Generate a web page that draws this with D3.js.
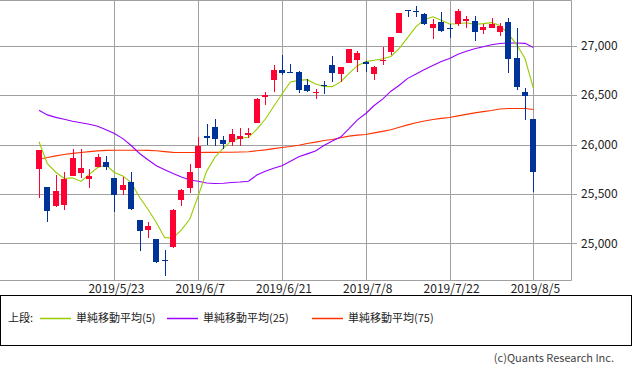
<!DOCTYPE html>
<meta charset="utf-8">
<style>
    body {margin: 0; background: #fff; font-family: "Noto Sans CJK JP", "Noto Sans", sans-serif;}
    svg {display: block;}
</style>
<svg width="633" height="373"></svg>
<script src="https://d3js.org/d3.v7.min.js"></script>
<script>
  /**
   * ----------------------------------------------------------------------------------------------
   * data
   * ----------------------------------------------------------------------------------------------
   */
  const dates = [
    "2019/5/10", "2019/5/13", "2019/5/14", "2019/5/15", "2019/5/16", "2019/5/17", "2019/5/20", "2019/5/21", "2019/5/22", "2019/5/23",
    "2019/5/24", "2019/5/28", "2019/5/29", "2019/5/30", "2019/5/31", "2019/6/3", "2019/6/4", "2019/6/5", "2019/6/6", "2019/6/7",
    "2019/6/10", "2019/6/11", "2019/6/12", "2019/6/13", "2019/6/14", "2019/6/17", "2019/6/18", "2019/6/19", "2019/6/20", "2019/6/21",
    "2019/6/24", "2019/6/25", "2019/6/26", "2019/6/27", "2019/6/28", "2019/7/1", "2019/7/2", "2019/7/3", "2019/7/5", "2019/7/8",
    "2019/7/9", "2019/7/10", "2019/7/11", "2019/7/12", "2019/7/15", "2019/7/16", "2019/7/17", "2019/7/18", "2019/7/19", "2019/7/22",
    "2019/7/23", "2019/7/24", "2019/7/25", "2019/7/26", "2019/7/29", "2019/7/30", "2019/7/31", "2019/8/1", "2019/8/2", "2019/8/5"
  ];
  const opens = [
    25751, 25568, 25376, 25386, 25683, 25710, 25653, 25774, 25822, 25659,
    25538, 25619, 25234, 25132, 25044, 24828, 24953, 25440, 25562, 25764,
    26085, 26173, 26044, 26028, 26061, 26095, 26220, 26484, 26653, 26754,
    26730, 26730, 26602, 26517, 26605, 26804, 26716, 26828, 26855, 26831,
    26713, 26845, 26933, 27132, 27362, 27351, 27318, 27186, 27243, 27176,
    27220, 27250, 27250, 27159, 27183, 27142, 27237, 26872, 26527, 26257
  ];
  const highs = [
    25945, 25570, 25690, 25724, 25953, 25953, 25747, 25906, 25882, 25660,
    25673, 25720, 25240, 25217, 25045, 24930, 25345, 25545, 25801, 26078,
    26206, 26254, 26085, 26152, 26163, 26163, 26467, 26534, 26805, 26906,
    26811, 26747, 26659, 26560, 26645, 26895, 26790, 26966, 26946, 26845,
    26797, 26990, 27090, 27332, 27362, 27402, 27335, 27270, 27338, 27220,
    27372, 27301, 27304, 27220, 27277, 27226, 27277, 27176, 26568, 26260
  ];
  const lows = [
    25460, 25217, 25370, 25335, 25680, 25656, 25551, 25770, 25740, 25318,
    25487, 25335, 24930, 25055, 24800, 24669, 24950, 25369, 25511, 25760,
    25990, 25984, 25950, 25984, 25977, 26061, 26218, 26399, 26534, 26705,
    26725, 26524, 26530, 26460, 26517, 26635, 26635, 26825, 26737, 26737,
    26652, 26811, 26905, 27130, 27287, 27287, 27210, 27064, 27139, 27081,
    27199, 27183, 27051, 27115, 27176, 27098, 26720, 26544, 26240, 25520
  ];
  const closes = [
    25942, 25325, 25532, 25648, 25862, 25764, 25680, 25877, 25776, 25490,
    25586, 25347, 25127, 25170, 24815, 24820, 25332, 25540, 25720, 25984,
    26062, 26049, 26005, 26107, 26090, 26112, 26465, 26504, 26753, 26720,
    26727, 26548, 26537, 26527, 26600, 26718, 26787, 26966, 26922, 26806,
    26784, 26860, 27088, 27332, 27359, 27336, 27220, 27223, 27154, 27172,
    27350, 27270, 27141, 27192, 27222, 27199, 26864, 26583, 26485, 25718
  ];
  const ma5 = [
    26028, 25806, 25719, 25655, 25662, 25626, 25697, 25766, 25792, 25717,
    25682, 25615, 25465, 25344, 25209, 25056, 25053, 25135, 25245, 25479,
    25728, 25871, 25964, 26041, 26063, 26073, 26156, 26256, 26385, 26511,
    26634, 26650, 26657, 26612, 26588, 26586, 26634, 26720, 26799, 26840,
    26853, 26868, 26892, 26974, 27085, 27195, 27267, 27294, 27258, 27221,
    27224, 27234, 27217, 27225, 27235, 27205, 27124, 27012, 26871, 26570
  ];
  const ma25 = [
    26348, 26300, 26275, 26255, 26235, 26220, 26205, 26185, 26150, 26111,
    26060, 25990, 25909, 25845, 25784, 25745, 25706, 25670, 25640, 25628,
    25610, 25605, 25608, 25615, 25620, 25628, 25690, 25730, 25760, 25784,
    25830, 25875, 25905, 25935, 25990, 26035, 26075, 26160, 26250, 26314,
    26395, 26460, 26540, 26600, 26670, 26715, 26760, 26800, 26840, 26872,
    26915, 26945, 26970, 26990, 27010, 27024, 27028, 27028, 27025, 26983
  ];
  const ma75 = [
    25851, 25868, 25885, 25899, 25910, 25919, 25928, 25935, 25940, 25942,
    25942, 25942, 25942, 25940, 25936, 25928, 25920, 25919, 25919, 25919,
    25920, 25920, 25921, 25922, 25924, 25926, 25936, 25946, 25958, 25969,
    25980, 25993, 26010, 26024, 26040, 26050, 26068, 26085, 26095, 26101,
    26118, 26133, 26150, 26175, 26199, 26220, 26238, 26253, 26265, 26274,
    26290, 26305, 26320, 26333, 26345, 26360, 26365, 26365, 26365, 26355
  ];
  const yTicks = [25000, 25500, 26000, 26500, 27000];
  const xTickIdx = [9, 19, 29, 39, 49, 59];
  const legendLabels = ["単純移動平均(5)", "単純移動平均(25)", "単純移動平均(75)"];
  const legendColors = ["#99cc00", "#9900ff", "#ff3300"];

  /**
   *----------------------------------------------------------------------------
   * definitions
   *----------------------------------------------------------------------------
   **/
  var plotRight = 571, plotBottom = 280;
  var upColor = "#ff0033", downColor = "#003399", gridColor = "#a0a0a0";

  var svg = d3.select("svg");

  var x = d3.scaleLinear().domain([0, 59]).range([39, 533.4]);
  var y = d3.scaleLinear().domain([25000, 27000]).range([243.2, 45.8]);
  var px = function(v) { return Math.round(v) + 0.5; };

  /**------------------------------------------------------------------------
   * grid + frame
   **----------------------------------------------------------------------**/
  var grid = svg.append("g").attr("stroke", gridColor).attr("stroke-width", 1);
  grid.selectAll("line.h").data(yTicks).enter().append("line")
      .attr("class", "h")
      .attr("x1", 0).attr("x2", plotRight + 6)
      .attr("y1", function(d) { return px(y(d)); })
      .attr("y2", function(d) { return px(y(d)); });
  grid.selectAll("line.v").data(xTickIdx).enter().append("line")
      .attr("class", "v")
      .attr("x1", function(d) { return px(x(d)); })
      .attr("x2", function(d) { return px(x(d)); })
      .attr("y1", 0).attr("y2", plotBottom);
  grid.append("path")
      .attr("fill", "none")
      .attr("d", "M0,0.5H" + (plotRight + 0.5) + "V" + (plotBottom + 0.5) + "H0");

  /**------------------------------------------------------------------------
   * axes labels
   **----------------------------------------------------------------------**/
  svg.append("g").selectAll("text").data(yTicks).enter().append("text")
      .attr("x", 581).attr("y", function(d) { return y(d); })
      .attr("dy", "0.36em")
      .attr("font-size", 12).attr("fill", "#222")
      .text(function(d) { return d3.format(",")(d); });

  svg.append("g").selectAll("text").data(xTickIdx).enter().append("text")
      .attr("x", function(d) { return x(d) + 2; }).attr("y", 293)
      .attr("text-anchor", "middle")
      .attr("font-size", 12).attr("fill", "#222")
      .text(function(d) { return dates[d]; });

  /**------------------------------------------------------------------------
   * moving averages
   **----------------------------------------------------------------------**/
  var line = d3.line()
      .x(function(d, i) { return x(i); })
      .y(function(d) { return y(d); });
  [ma75, ma25, ma5].forEach(function(s, k) {
    svg.append("path")
        .attr("fill", "none")
        .attr("stroke", legendColors[2 - k])
        .attr("stroke-width", 1.1)
        .attr("d", line(s));
  });

  /**------------------------------------------------------------------------
   * candles
   **----------------------------------------------------------------------**/
  var candles = svg.append("g").attr("shape-rendering", "crispEdges")
    .selectAll("g").data(d3.range(dates.length)).enter().append("g")
      .attr("fill", function(i) { return closes[i] >= opens[i] ? upColor : downColor; })
      .attr("stroke", "none");
  candles.append("rect")
      .attr("x", function(i) { return Math.round(x(i)); })
      .attr("width", 1)
      .attr("y", function(i) { return Math.round(y(highs[i])); })
      .attr("height", function(i) { return Math.max(1, Math.round(y(lows[i]) - y(highs[i]))); });
  candles.append("rect")
      .attr("x", function(i) { return Math.round(x(i)) - 3; })
      .attr("width", 6)
      .attr("y", function(i) { return Math.round(y(Math.max(opens[i], closes[i]))); })
      .attr("height", function(i) { return Math.max(1, Math.round(Math.abs(y(opens[i]) - y(closes[i])))); });

  /**------------------------------------------------------------------------
   * legend
   **----------------------------------------------------------------------**/
  svg.append("rect")
      .attr("x", 0.5).attr("y", 295.5).attr("width", 631).attr("height", 50)
      .attr("fill", "none").attr("stroke", "#000");
  svg.append("text").attr("x", 8).attr("y", 322).attr("font-size", 11).attr("fill", "#222").text("上段:");
  var legendX = [40, 167, 312];
  legendLabels.forEach(function(l, i) {
    svg.append("line")
        .attr("x1", legendX[i]).attr("x2", legendX[i] + 31)
        .attr("y1", 318.5).attr("y2", 318.5)
        .attr("stroke", legendColors[i]).attr("stroke-width", 1.5);
    svg.append("text")
        .attr("x", legendX[i] + 36).attr("y", 322)
        .attr("font-size", 11).attr("fill", "#222")
        .text(l);
  });

  svg.append("text")
      .attr("x", 614).attr("y", 362)
      .attr("text-anchor", "end")
      .attr("font-size", 11).attr("fill", "#444")
      .text("(c)Quants Research Inc.");
</script>
